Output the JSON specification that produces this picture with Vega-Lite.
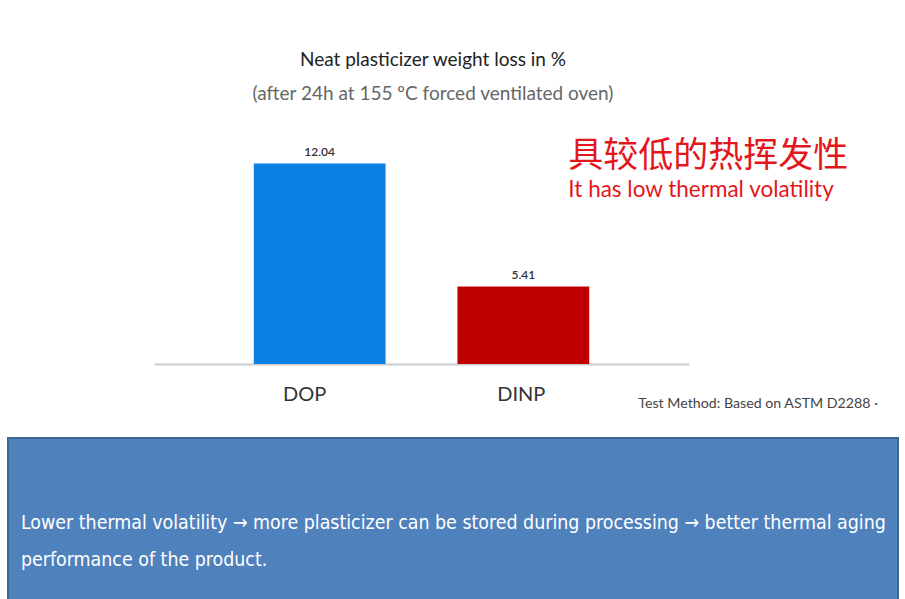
{
  "$schema": "https://vega.github.io/schema/vega-lite/v6.json",
  "background": "white",
  "padding": {"left": 7, "top": 51, "right": 0, "bottom": 0},
  "config": {"view": {"stroke": null}, "font": "Lato"},
  "spacing": 25,
  "datasets": {
    "bars": [
      {"plasticizer": "DOP", "loss": 12.04},
      {"plasticizer": "DINP", "loss": 5.41}
    ]
  },
  "vconcat": [
    {
      "width": 890,
      "height": 234,
      "title": {
        "text": "Neat plasticizer weight loss in %",
        "subtitle": "(after 24h at 155 ºC forced ventilated oven)",
        "font": "Lato",
        "fontSize": 19,
        "fontWeight": "normal",
        "color": "#222222",
        "subtitleFont": "Lato",
        "subtitleFontSize": 19,
        "subtitleColor": "#666666",
        "subtitlePadding": 15,
        "offset": 26,
        "dx": -20
      },
      "data": {"name": "bars"},
      "encoding": {
        "x": {
          "field": "plasticizer",
          "type": "nominal",
          "sort": ["DOP", "DINP"],
          "scale": {"range": [146, 681], "paddingInner": 0.353, "paddingOuter": 0.49},
          "axis": {
            "title": null,
            "labelAngle": 0,
            "ticks": false,
            "domainColor": "#cccccc",
            "domainWidth": 2,
            "labelFont": "Lato",
            "labelFontSize": 20,
            "labelColor": "#333333",
            "labelPadding": 20,
            "labelOffset": {"condition": {"test": "datum.value === 'DOP'", "value": -15}, "value": -2}
          }
        }
      },
      "layer": [
        {
          "mark": {"type": "bar"},
          "encoding": {
            "y": {
              "field": "loss",
              "type": "quantitative",
              "scale": {"domain": [1.23, 13.84], "zero": false, "nice": false},
              "axis": null
            },
            "y2": {"datum": 1.23},
            "color": {
              "field": "plasticizer",
              "type": "nominal",
              "scale": {"domain": ["DOP", "DINP"], "range": ["#0A80E2", "#C00000"]},
              "legend": null
            }
          }
        },
        {
          "mark": {"type": "text", "baseline": "alphabetic", "dy": -7, "fontSize": 12, "fontWeight": 600, "color": "#333333", "font": "Lato"},
          "encoding": {
            "y": {"field": "loss", "type": "quantitative"},
            "text": {"field": "loss", "type": "quantitative", "format": ".2f"}
          }
        },
        {
          "data": {"values": [{"note": "具较低的热挥发性"}]},
          "mark": {"type": "text", "align": "left", "baseline": "alphabetic", "dx": 45, "font": "Noto Sans CJK SC", "fontSize": 35, "color": "#E4161B"},
          "encoding": {
            "x": {"datum": "DINP", "type": "nominal"},
            "y": {"datum": 11.86, "type": "quantitative"},
            "text": {"field": "note"}
          }
        },
        {
          "data": {"values": [{"note": "It has low thermal volatility"}]},
          "mark": {"type": "text", "align": "left", "baseline": "alphabetic", "dx": 45, "font": "Lato", "fontSize": 22.5, "color": "#E4161B"},
          "encoding": {
            "x": {"datum": "DINP", "type": "nominal"},
            "y": {"datum": 10.22, "type": "quantitative"},
            "text": {"field": "note"}
          }
        },
        {
          "data": {"values": [{"note": "Test Method: Based on ASTM D2288 ·"}]},
          "mark": {"type": "text", "align": "left", "baseline": "alphabetic", "dx": 115, "font": "Lato", "fontSize": 14.2, "color": "#444444"},
          "encoding": {
            "x": {"datum": "DINP", "type": "nominal"},
            "y": {"datum": -1.14, "type": "quantitative"},
            "text": {"field": "note"}
          }
        }
      ]
    },
    {
      "width": 890,
      "height": 170,
      "view": {"fill": "#4F81BD", "stroke": "#3E6795", "strokeWidth": 2},
      "data": {
        "values": [
          {"line": 1, "text": "Lower thermal volatility → more plasticizer can be stored during processing → better thermal aging"},
          {"line": 2, "text": "performance of the product."}
        ]
      },
      "mark": {"type": "text", "align": "left", "baseline": "alphabetic", "font": "DejaVu Sans Condensed, Roboto, sans-serif", "fontSize": 19.4, "color": "white"},
      "encoding": {
        "x": {"value": 13},
        "y": {"field": "line", "type": "ordinal", "scale": {"type": "point", "range": [91, 128], "padding": 0}, "axis": null},
        "text": {"field": "text"}
      }
    }
  ]
}
